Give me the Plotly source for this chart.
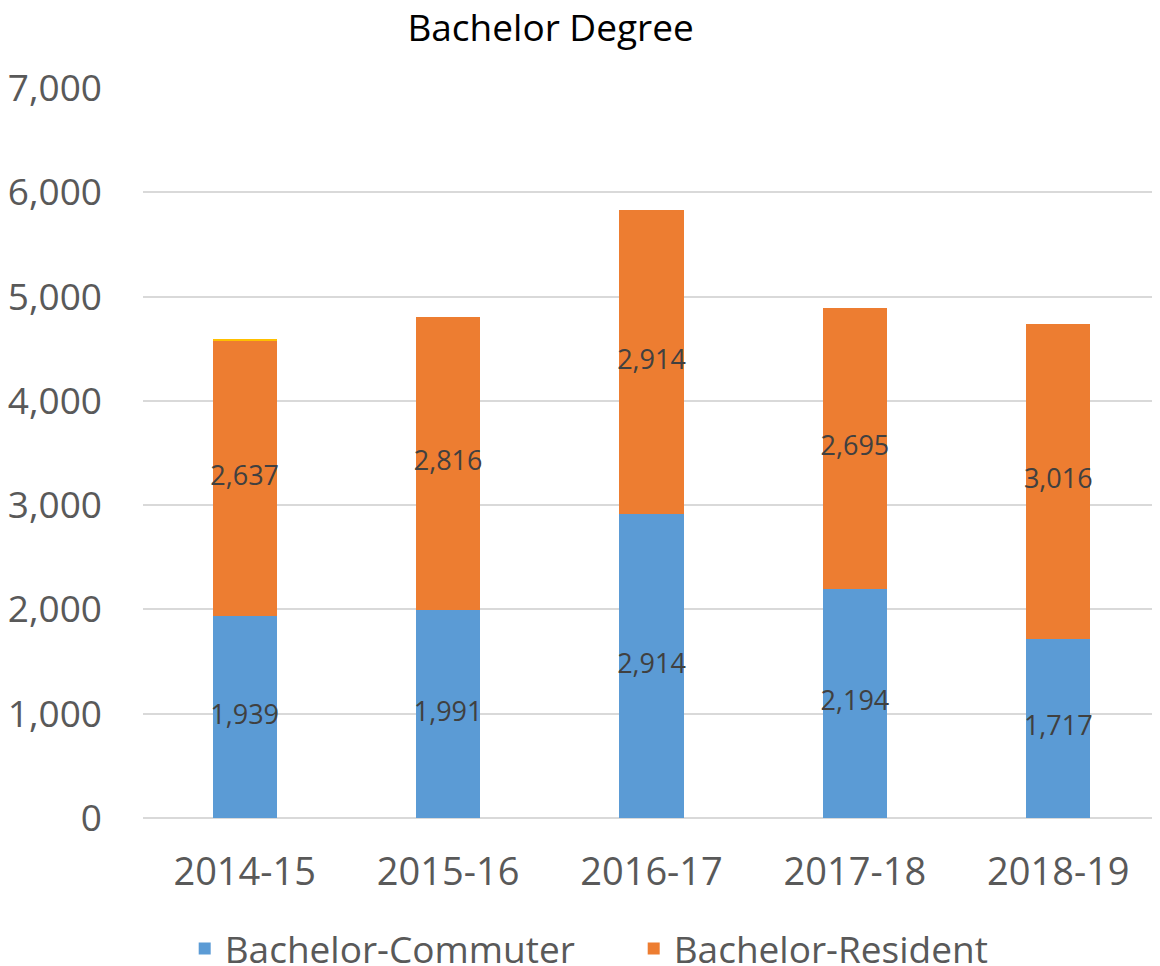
import plotly.graph_objects as go

years = ['2014-15', '2015-16', '2016-17', '2017-18', '2018-19']
commuter = [1939, 1991, 2914, 2194, 1717]
resident = [2637, 2816, 2914, 2695, 3016]
other = [15, 0, 0, 0, 0]

font = 'Open Sans'
fig = go.Figure()

fig.add_trace(go.Bar(x=years, y=commuter, name='Bachelor-Commuter',
                     marker_color='#5B9BD5', marker_line_width=0))
fig.add_trace(go.Bar(x=years, y=resident, name='Bachelor-Resident',
                     marker_color='#ED7D31', marker_line_width=0))
fig.add_trace(go.Bar(x=years, y=other, name='Bachelor-Other',
                     marker_color='#FFC000', marker_line_width=0,
                     showlegend=False))

# data labels at segment centres
fig.add_trace(go.Scatter(
    x=years + years,
    y=[c / 2 for c in commuter] + [c + r / 2 for c, r in zip(commuter, resident)],
    text=[f'{v:,}' for v in commuter + resident],
    mode='text', textfont=dict(family=font, size=27, color='#404040'),
    showlegend=False, hoverinfo='skip', cliponaxis=False))

# page body adds an 8px offset, so the figure is a bit smaller than the window
fig.update_layout(
    width=1152, height=958,
    barmode='stack', bargap=0.685,
    plot_bgcolor='white', paper_bgcolor='white',
    margin=dict(l=135, r=0, t=80, b=148, autoexpand=False),
    title=dict(text='Bachelor Degree', x=0.471, xanchor='center',
               y=0.979, yanchor='middle',
               font=dict(family=font, size=37, color='black')),
    font=dict(family=font, color='#595959'),
    legend=dict(orientation='h', x=0.041, xanchor='left', y=-0.137,
                yanchor='top', font=dict(size=37, color='#595959'),
                itemwidth=30, entrywidth=404, traceorder='normal'),
    xaxis=dict(tickfont=dict(size=38), showline=False, ticks='',
               ticklabelstandoff=28),
    yaxis=dict(range=[0, 7000], dtick=1000, tickformat=',',
               tickfont=dict(size=37), gridcolor='#D9D9D9', gridwidth=1.5,
               zeroline=True, zerolinecolor='#D9D9D9', zerolinewidth=1.5,
               ticks='', ticklabelstandoff=40),
)

fig.write_html('out.html')
